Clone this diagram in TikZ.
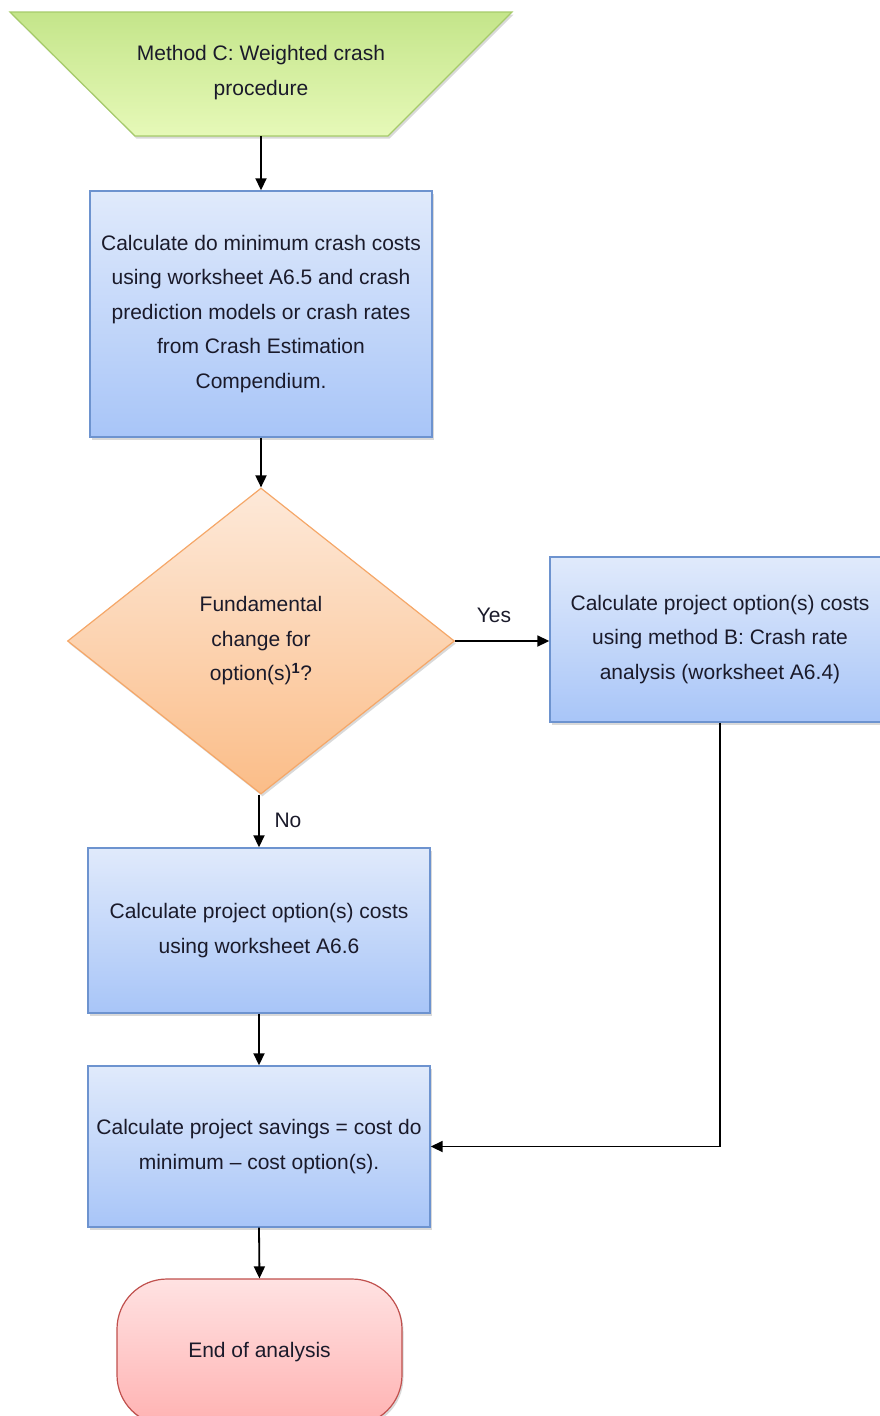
\documentclass[tikz,border=0pt]{standalone}
\usepackage{fontspec}
\setmainfont{Liberation Sans}
\usetikzlibrary{shapes.geometric,arrows.meta,shadows}

\definecolor{txt}{HTML}{1A1A2A}
\definecolor{bluetop}{HTML}{E0EAFB}
\definecolor{bluebot}{HTML}{A8C5F8}
\definecolor{blueline}{HTML}{6D93CF}
\definecolor{greentop}{HTML}{C4E58A}
\definecolor{greenbot}{HTML}{E6F9B8}
\definecolor{greenline}{HTML}{A6CB6A}
\definecolor{orangetop}{HTML}{FDE9D9}
\definecolor{orangebot}{HTML}{FBBD88}
\definecolor{orangeline}{HTML}{F5A768}
\definecolor{pinktop}{HTML}{FFE2E2}
\definecolor{pinkbot}{HTML}{FFB2B2}
\definecolor{pinkline}{HTML}{C0504D}

\begin{document}
\begin{tikzpicture}[x=1pt,y=-1pt,
  every node/.style={font=\fontsize{21}{34.5}\selectfont, text=txt},
  softshadow/.style={drop shadow={shadow xshift=1.5pt,shadow yshift=-2.5pt,opacity=0.3}},
  procbox/.style={draw=blueline, line width=1.4pt, top color=bluetop, bottom color=bluebot,
    minimum width=342pt, align=center, inner sep=0pt, softshadow},
  startshape/.style={draw=greenline, line width=1.2pt, top color=greentop, bottom color=greenbot,
    softshadow},
  decbox/.style={diamond, aspect=1.26, minimum width=387pt, minimum height=306pt,
    draw=orangeline, line width=1.2pt, top color=orangetop, bottom color=orangebot,
    align=center, inner sep=0pt, softshadow},
  endbox/.style={rectangle, rounded corners=50pt, minimum width=285pt, minimum height=146pt,
    draw=pinkline, line width=1.2pt, top color=pinktop, bottom color=pinkbot,
    align=center, inner sep=0pt, softshadow},
  link/.style={line width=1.8pt, -{Triangle[length=12pt,width=11pt]}},
  tag/.style={inner sep=0pt}
]
\useasboundingbox (0,0) rectangle (880,1416);

% manual-input trapezoid that opens the procedure
\path[startshape] (10,12) -- (512,12) -- (388,136) -- (135,136) -- cycle;
\node[align=center, inner sep=0pt] (start) at (261,72.5) {Method C: Weighted crash\\procedure};
\coordinate (startfoot) at (261,136);

% shapes of the procedure
\node[procbox, minimum height=246pt] (dominimum) at (261,314)
  {Calculate do minimum crash costs\\using worksheet A6.5 and crash\\prediction models or crash rates\\from Crash Estimation\\Compendium.};
\node[decbox] (fundamental) at (261,641)
  {Fundamental\\change for\\option(s)\textsuperscript{\textbf{1}}?};
\node[procbox, minimum width=340pt, minimum height=165pt] (methodb) at (720,639.5)
  {Calculate project option(s) costs\\using method B: Crash rate\\analysis (worksheet A6.4)};
\node[procbox, minimum height=165pt] (options) at (259,930.5)
  {Calculate project option(s) costs\\using worksheet A6.6};
\node[procbox, minimum height=161pt] (savings) at (259,1146.5)
  {Calculate project savings = cost do\\minimum -- cost option(s).};
\node[endbox] (finish) at (259.5,1352) {End of analysis};

% connectors
\draw[link] (startfoot -| dominimum.north) -- (dominimum.north);
\draw[link] (dominimum.south) -- (dominimum.south |- fundamental.north);
\draw[link] (fundamental.east) -- (fundamental.east -| methodb.west);
\draw[link] (fundamental.south -| options.north) -- (options.north);
\draw[link] (options.south) -- (savings.north);
\draw[link] (savings.south) -- (finish.north);
\draw[link] (methodb.south) |- (savings.east);

% branch labels
\node[tag] (yes) at (494,615) {Yes};
\node[tag] (no) at (288,820) {No};
\end{tikzpicture}
\end{document}
